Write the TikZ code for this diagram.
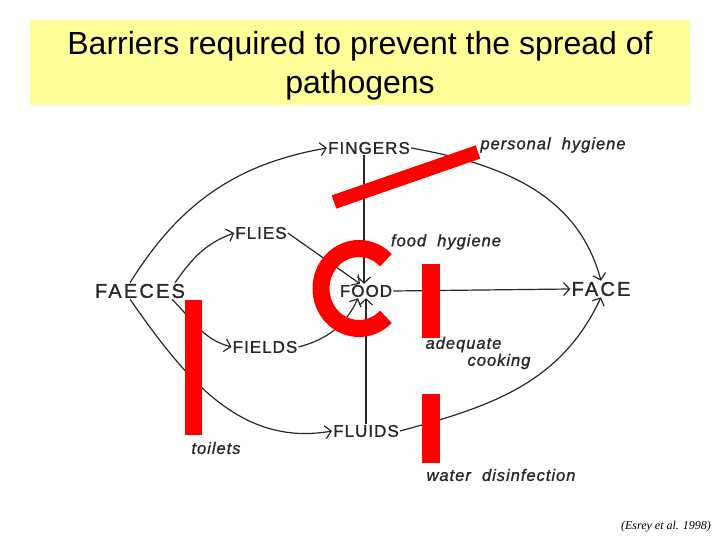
\documentclass[tikz,border=0pt]{standalone}
\usepackage{fontspec}
\setmainfont{Liberation Sans}
\newfontfamily\sketchfont[LetterSpace=6,FakeBold=1.2]{Liberation Sans}
\newfontfamily\widefont[LetterSpace=11,FakeBold=1.2]{Liberation Sans}
\newfontfamily\citefont{Liberation Serif}
\usetikzlibrary{positioning,arrows.meta}
\definecolor{titleyellow}{RGB}{255,255,153}
\definecolor{inkgray}{RGB}{40,40,40}
\tikzstyle{station} = [inner sep=1pt, text=inkgray, font=\sketchfont\fontsize{17}{19}\selectfont]
\tikzstyle{bigstation} = [station, font=\widefont\fontsize{20}{22}\selectfont]
\tikzstyle{remedy} = [inner sep=1pt, text=inkgray, font=\sketchfont\itshape\fontsize{16.5}{18}\selectfont]
\tikzstyle{route} = [line width=1.2pt, draw=inkgray, -{Straight Barb[length=6pt,width=13pt]}]
\tikzstyle{barrier} = [draw=red, line width=14pt]

\begin{document}
\begin{tikzpicture}[x=1pt,y=1pt]
        \useasboundingbox (0,0) rectangle (720,540);
        % Title ------------------------------------------------------------------------------------
        \node[fill=titleyellow, minimum width=660pt, minimum height=85pt](title_box) at (360,477.5){};
        \node[align=center, font=\fontsize{32}{39}\selectfont](title) at ([yshift=-3pt]title_box.center){Barriers required to prevent the spread of\\pathogens};
        % Stations ---------------------------------------------------------------------------------
        \node[bigstation](faeces) at (140,249){FAECES};
        \node[station](fingers) at (369,392){FINGERS};
        \node[station](flies) at (261,307){FLIES};
        \node[station](food) at (366,249){FOOD};
        \node[station](fields) at (265,193){FIELDS};
        \node[station](fluids) at (366,109){FLUIDS};
        \node[bigstation](face) at (601,251){FACE};
        % Remedies ---------------------------------------------------------------------------------
        \node[remedy](personal) at (553,395){personal\ \ hygiene};
        \node[remedy](food_hygiene) at (446,298){food\ \ hygiene};
        \node[remedy, align=left, font=\sketchfont\itshape\fontsize{16.5}{17}\selectfont](cooking) at (478,187){adequate\\\hspace*{42pt}cooking};
        \node[remedy](toilets) at (216,92){toilets};
        \node[remedy](water) at (501,65){water\ \ disinfection};
        % Source -----------------------------------------------------------------------------------
        \node[font=\citefont\itshape\fontsize{12}{14}\selectfont](source) at (666,13){(Esrey et al. 1998)};
        % Routes -----------------------------------------------------------------------------------
        \draw[route] ([xshift=-10pt]faeces.north) to[out=58,in=190] (fingers.west);
        \draw[route] ([xshift=35pt]faeces.north) to[out=55,in=200] (flies.west);
        \draw[route] ([xshift=32pt]faeces.south) to[out=-45,in=165] (fields.west);
        \draw[route] ([xshift=-10pt]faeces.south) to[out=-55,in=190] (fluids.west);
        \draw[route] (flies.east) -- ([xshift=-6pt]food.north);
        \draw[route] (fields.east) to[out=15,in=-115] ([xshift=-8pt]food.south);
        \draw[route] ([xshift=-5pt]fingers.south) -- ([xshift=-2pt]food.north);
        \draw[route] (fluids.north) -- (food.south);
        \draw[route] (food.east) -- (face.west);
        \draw[route] (fingers.east) to[out=-10,in=105] (face.north);
        \draw[route] (fluids.east) to[out=15,in=-115] (face.south);
        % Barriers ---------------------------------------------------------------------------------
        \draw[barrier] (334,338) -- (478,388);
        \draw[barrier, line width=17pt] (359,251.5) ++(45:38 and 40) arc[start angle=45, end angle=315, x radius=38, y radius=40];
        \fill[red] (422,202) rectangle (440,276);
        \fill[red] (185,105) rectangle (202,240);
        \fill[red] (422,77) rectangle (440,146);
    \end{tikzpicture}
\end{document}
